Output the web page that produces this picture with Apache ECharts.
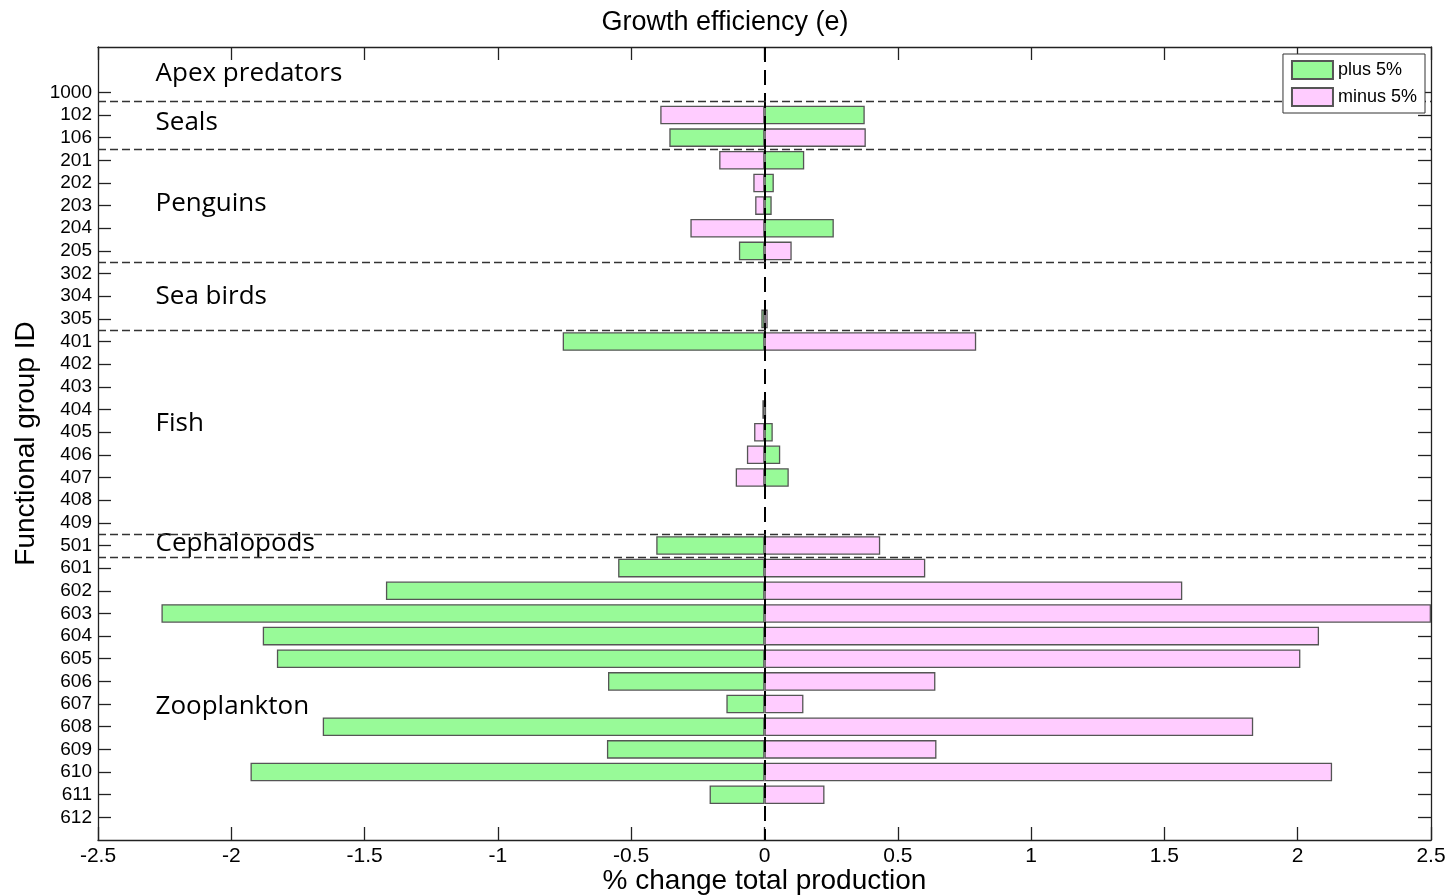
<!DOCTYPE html>
<html>
<head>
<meta charset="utf-8">
<script src="https://cdn.jsdelivr.net/npm/echarts@6/dist/echarts.min.js"></script>
<style>
html,body{margin:0;padding:0;background:#fff;}
#chart{width:1450px;height:895px;}
</style>
</head>
<body>
<div id="chart"></div>
<script>
// Functional group IDs (top to bottom)
const categories = ['1000','102','106','201','202','203','204','205','302','304','305','401','402','403','404','405','406','407','408','409','501','601','602','603','604','605','606','607','608','609','610','611','612'];
// % change total production, growth efficiency plus 5%
const plus5 = [0, 0.376, -0.357, 0.149, 0.035, 0.027, 0.26, -0.096, 0, 0, -0.012, -0.757, 0, 0, 0.006, 0.031, 0.059, 0.091, 0, 0, -0.406, -0.549, -1.42, -2.262, -1.882, -1.829, -0.587, -0.143, -1.657, -0.591, -1.928, -0.206, 0];
// % change total production, growth efficiency minus 5%
const minus5 = [0, -0.391, 0.38, -0.17, -0.042, -0.035, -0.278, 0.102, 0, 0, 0.012, 0.794, 0, 0, -0.008, -0.039, -0.066, -0.108, 0, 0, 0.434, 0.603, 1.567, 2.5, 2.08, 2.01, 0.641, 0.146, 1.833, 0.645, 2.129, 0.225, 0];
// x-axis ticks
const xTicks = [-2.5, -2, -1.5, -1, -0.5, 0, 0.5, 1, 1.5, 2, 2.5];
// Group annotations
const groupNames = ['Apex predators','Seals','Penguins','Sea birds','Fish','Cephalopods','Zooplankton'];
const groupRowPos = [1.16, 3.32, 6.9, 11.0, 16.6, 21.9, 29.1];   // row coordinate (category index incl. 2 blank rows on top)
const groupBoundaries = [2.4, 4.5, 9.5, 12.5, 21.5, 22.5];        // dashed separators between groups
const labelX = -2.286;

// pad axis: two empty rows above, one below
const yCats = ['_a','_b'].concat(categories, ['_c']);
const pad = arr => [null, null].concat(arr.map(v => v === 0 ? null : v), [null]);
const isBlank = v => String(v).charAt(0) === '_';

const FONT = 'Liberation Sans';
const chart = echarts.init(document.getElementById('chart'), null, {renderer: 'canvas'});

const axisLineStyle = {color: '#222', width: 1.3};

chart.setOption({
  backgroundColor: '#fff',
  animation: false,
  title: {
    text: 'Growth efficiency (e)',
    left: 'center', top: 4,
    textStyle: {fontFamily: FONT, fontSize: 27, fontWeight: 'normal', color: '#000'}
  },
  legend: {
    data: ['plus 5%', 'minus 5%'],
    orient: 'vertical',
    right: 25, top: 54,
    z: 20,
    icon: 'rect',
    itemWidth: 41, itemHeight: 18, itemGap: 7,
    padding: [6, 8, 6, 8],
    borderColor: '#333', borderWidth: 1,
    backgroundColor: '#fff',
    textStyle: {fontFamily: FONT, fontSize: 18, color: '#000'}
  },
  grid: {left: 98, right: 19, top: 47, bottom: 55, containLabel: false, outerBoundsMode: 'none'},
  xAxis: [{
    type: 'value', position: 'bottom',
    min: xTicks[0], max: xTicks[xTicks.length - 1], interval: 0.5,
    axisLine: {show: true, onZero: false, lineStyle: axisLineStyle},
    axisTick: {show: true, inside: true, length: 13, lineStyle: axisLineStyle},
    axisLabel: {fontFamily: FONT, fontSize: 21, color: '#000', margin: 6},
    splitLine: {show: false},
    name: '% change total production',
    nameLocation: 'middle', nameGap: 27, nameMoveOverlap: false,
    nameTextStyle: {fontFamily: FONT, fontSize: 28, color: '#000', verticalAlign: 'top'}
  }, {
    type: 'value', position: 'top',
    min: xTicks[0], max: xTicks[xTicks.length - 1], interval: 0.5,
    axisLine: {show: true, onZero: false, lineStyle: axisLineStyle},
    axisTick: {show: true, inside: true, length: 13, lineStyle: axisLineStyle},
    axisLabel: {show: false},
    splitLine: {show: false}
  }],
  yAxis: [{
    type: 'category', position: 'left',
    data: yCats, inverse: true, boundaryGap: false,
    axisLine: {show: true, onZero: false, lineStyle: axisLineStyle},
    axisTick: {show: true, inside: true, length: 13, lineStyle: axisLineStyle,
      interval: (i, v) => !isBlank(v)},
    axisLabel: {fontFamily: FONT, fontSize: 19, color: '#000', margin: 6,
      interval: (i, v) => !isBlank(v),
      formatter: v => isBlank(v) ? '' : v},
    splitLine: {show: false},
    name: 'Functional group ID',
    nameLocation: 'middle', nameGap: 58, nameMoveOverlap: false,
    nameTextStyle: {fontFamily: FONT, fontSize: 28, color: '#000'}
  }, {
    type: 'value', show: false,
    min: 0, max: yCats.length - 1, inverse: true,
    axisLine: {onZero: false}
  }, {
    type: 'category', position: 'right',
    data: yCats, inverse: true, boundaryGap: false,
    axisLine: {show: true, onZero: false, lineStyle: axisLineStyle},
    axisTick: {show: true, inside: true, length: 13, lineStyle: axisLineStyle,
      interval: (i, v) => !isBlank(v)},
    axisLabel: {show: false},
    splitLine: {show: false}
  }],
  series: [{
    name: 'guides',
    type: 'scatter',
    xAxisIndex: 0, yAxisIndex: 1,
    z: 1,
    silent: true,
    symbolSize: 1,
    itemStyle: {color: 'transparent', opacity: 1},
    data: groupNames.map((n, i) => ({name: n, value: [labelX, groupRowPos[i]]})),
    label: {
      show: true, position: 'right', distance: 0,
      formatter: p => p.name,
      fontFamily: 'Open Sans', fontSize: 26, fontWeight: 500, color: '#000', opacity: 1
    },
    markLine: {
      silent: true,
      symbol: ['none', 'none'],
      label: {show: false},
      animation: false,
      data: [
        {xAxis: 0, lineStyle: {color: '#000', width: 2, type: [15, 8]}}
      ].concat(groupBoundaries.map(b => ({yAxis: b, lineStyle: {color: '#333', width: 1.3, type: [8, 4]}})))
    }
  }, {
    name: 'plus 5%',
    type: 'bar',
    xAxisIndex: 0, yAxisIndex: 0,
    z: 2,
    barWidth: '82%', barGap: '-100%',
    itemStyle: {color: '#98fa98', borderColor: '#555', borderWidth: 1.3},
    data: pad(plus5)
  }, {
    name: 'minus 5%',
    type: 'bar',
    xAxisIndex: 0, yAxisIndex: 0,
    z: 2,
    barWidth: '82%', barGap: '-100%',
    itemStyle: {color: '#ffccff', borderColor: '#555', borderWidth: 1.3},
    data: pad(minus5)
  }]
});
</script>
</body>
</html>
